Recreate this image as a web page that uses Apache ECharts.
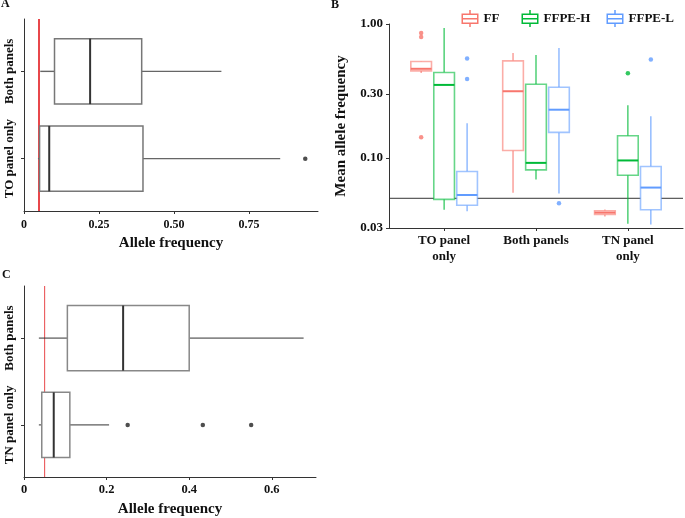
<!DOCTYPE html>
<html>
<head>
<meta charset="utf-8">
<script src="https://cdn.jsdelivr.net/npm/echarts@6/dist/echarts.min.js"></script>
<style>html,body{margin:0;padding:0;background:#fff}#main{width:685px;height:518px}</style>
</head>
<body>
<div id="main"></div>
<script>
// ---------- Panel A ----------
const aCategories = ['TO panel only', 'Both panels'];
// [low whisker, Q1, median, Q3, high whisker]
const aStats = [
  [0.0465, 0.0519, 0.0841, 0.3966, 0.854],
  [0.0542, 0.1017, 0.2204, 0.3923, 0.658]
];
const aOutliers = [[0, 0.9375]];          // [category index, value]
const aTicks = [0, 0.25, 0.5, 0.75];
const aRefLine = 0.05;

// ---------- Panel B ----------
const bCategories = ['TO panel\nonly', 'Both panels', 'TN panel\nonly'];
const bGroups = ['FF', 'FFPE-H', 'FFPE-L'];
const ffStats = [
  [0.430, 0.447, 0.463, 0.525, 0.53],
  [0.0551, 0.1138, 0.3148, 0.531, 0.6065],
  [0.0366, 0.0379, 0.0391, 0.0404, 0.0413]
];
const ffpeHStats = [
  [0.0411, 0.0491, 0.351, 0.434, 0.933],
  [0.069, 0.0815, 0.0919, 0.3553, 0.586],
  [0.0323, 0.0743, 0.0958, 0.1464, 0.2473]
];
const ffpeLStats = [
  [0.0400, 0.0443, 0.0529, 0.0792, 0.1813],
  [0.0542, 0.1552, 0.2292, 0.3374, 0.661],
  [0.0318, 0.0411, 0.0601, 0.0864, 0.2046]
];
const ffOutliers = [[0, 0.856], [0, 0.799], [0, 0.1425]];
const ffpeHOutliers = [[2, 0.4295]];
const ffpeLOutliers = [[0, 0.5526], [0, 0.389], [1, 0.0459], [2, 0.543]];
const bTicks = [0.03, 0.1, 0.3, 1];
const bRefLine = 0.05;

// ---------- Panel C ----------
const cCategories = ['TN panel only', 'Both panels'];
const cStats = [
  [0.036, 0.043, 0.072, 0.111, 0.206],
  [0.036, 0.105, 0.240, 0.400, 0.677]
];
const cOutliers = [[0, 0.251], [0, 0.433], [0, 0.550]];
const cTicks = [0, 0.2, 0.4, 0.6];
const cRefLine = 0.05;

// ---------- styling ----------
const FONT = 'Liberation Serif';
const TXT = '#111';
const AX = '#333';
const BOX_W = 0.75;         // horizontal panels, in category units
const DODGE = 0.25;         // panel B offset between groups
const BOX_W_B = 0.225;
const bColors = ['#F8766D', '#00BA38', '#619CFF'];
const bColorsRGB = [[248,118,109],[0,186,56],[97,156,255]];

function rgba(c, a) { return 'rgba(' + c[0] + ',' + c[1] + ',' + c[2] + ',' + a + ')'; }

function hBox(st) {
  return function (params, api) {
    const cat = api.value(0);
    const v = [1, 2, 3, 4, 5].map(i => api.value(i));
    const xs = v.map(val => api.coord([val, cat])[0]);
    const yc = api.coord([v[0], cat])[1];
    const top = api.coord([v[0], cat + BOX_W / 2])[1];
    const bot = api.coord([v[0], cat - BOX_W / 2])[1];
    return { type: 'group', children: [
      { type: 'line', shape: { x1: xs[0], y1: yc, x2: xs[1], y2: yc }, style: { stroke: st.whisker, lineWidth: st.whiskerW } },
      { type: 'line', shape: { x1: xs[3], y1: yc, x2: xs[4], y2: yc }, style: { stroke: st.whisker, lineWidth: st.whiskerW } },
      { type: 'rect', shape: { x: xs[1], y: top, width: xs[3] - xs[1], height: bot - top }, style: { fill: '#fff', stroke: st.box, lineWidth: 1.5 } },
      { type: 'line', shape: { x1: xs[2], y1: top, x2: xs[2], y2: bot }, style: { stroke: st.median, lineWidth: 2 } }
    ]};
  };
}

function vBox(offset, k) {
  return function (params, api) {
    const x = api.value(0) + offset;
    const v = [1, 2, 3, 4, 5].map(i => api.value(i));
    const ys = v.map(val => api.coord([x, val])[1]);
    const xc = api.coord([x, v[2]])[0];
    const xl = api.coord([x - BOX_W_B / 2, v[2]])[0];
    const xr = api.coord([x + BOX_W_B / 2, v[2]])[0];
    const c = bColorsRGB[k];
    return { type: 'group', children: [
      { type: 'line', shape: { x1: xc, y1: ys[0], x2: xc, y2: ys[1] }, style: { stroke: rgba(c, 0.8), lineWidth: 1.3 } },
      { type: 'line', shape: { x1: xc, y1: ys[3], x2: xc, y2: ys[4] }, style: { stroke: rgba(c, 0.8), lineWidth: 1.3 } },
      { type: 'rect', shape: { x: xl, y: ys[3], width: xr - xl, height: ys[1] - ys[3] }, style: { fill: '#fff', stroke: rgba(c, 0.6), lineWidth: 1.6 } },
      { type: 'line', shape: { x1: xl, y1: ys[2], x2: xr, y2: ys[2] }, style: { stroke: bColors[k], lineWidth: 2 } }
    ]};
  };
}

function vRefLine(color, width) {
  return function (params, api) {
    const x = api.coord([api.value(0), 1])[0];
    const cs = params.coordSys;
    return { type: 'line', shape: { x1: x, y1: cs.y, x2: x, y2: cs.y + cs.height }, style: { stroke: color, lineWidth: width } };
  };
}
function hRefLine(color, width) {
  return function (params, api) {
    const y = api.coord([1, api.value(0)])[1];
    const cs = params.coordSys;
    return { type: 'line', shape: { x1: cs.x, y1: y, x2: cs.x + cs.width, y2: y }, style: { stroke: color, lineWidth: width } };
  };
}

const tickLabel = { fontFamily: FONT, fontWeight: 'bold', color: TXT };
const axisLine = { show: true, lineStyle: { color: AX, width: 1 } };

// legend icon: boxplot glyph made of filled bars
const boxIcon = 'path://M0,7h34v3h-34z M0,25h34v3h-34z M0,7h3v21h-3z M31,7h3v21h-3z M0,16h34v3h-34z M15.5,0h3v7h-3z M15.5,28h3v6h-3z';

const chart = echarts.init(document.getElementById('main'), null, { renderer: 'canvas' });

const series = [];
// Panel A
series.push({ type: 'custom', xAxisIndex: 0, yAxisIndex: 0, z: 1, silent: true,
  data: [[aRefLine]], encode: { x: 0 }, renderItem: vRefLine('#E8474B', 2) });
series.push({ type: 'custom', xAxisIndex: 0, yAxisIndex: 0, z: 2, silent: true,
  data: aStats.map((s, i) => [i + 1].concat(s)), encode: { y: 0, x: [1, 2, 3, 4, 5] },
  renderItem: hBox({ whisker: '#666', whiskerW: 1.4, box: '#777', median: '#333' }) });
series.push({ type: 'scatter', xAxisIndex: 0, yAxisIndex: 0, z: 3, silent: true,
  symbolSize: 4.5, itemStyle: { color: '#222' },
  data: aOutliers.map(o => [o[1], o[0] + 1]) });

// Panel B
series.push({ type: 'custom', xAxisIndex: 1, yAxisIndex: 1, z: 1, silent: true,
  data: [[bRefLine]], encode: { y: 0 }, renderItem: hRefLine('#333', 1) });
[ffStats, ffpeHStats, ffpeLStats].forEach((stats, k) => {
  series.push({ type: 'custom', name: bGroups[k], xAxisIndex: 1, yAxisIndex: 1, z: 2, silent: true,
    itemStyle: { color: bColors[k] },
    data: stats.map((s, i) => [i + 1].concat(s)), encode: { x: 0, y: [1, 2, 3, 4, 5] },
    renderItem: vBox((k - 1) * DODGE, k) });
});
[ffOutliers, ffpeHOutliers, ffpeLOutliers].forEach((outs, k) => {
  series.push({ type: 'scatter', xAxisIndex: 1, yAxisIndex: 1, z: 3, silent: true,
    symbolSize: 4.5, itemStyle: { color: bColors[k] },
    data: outs.map(o => [o[0] + 1 + (k - 1) * DODGE, o[1]]) });
});

// Panel C
series.push({ type: 'custom', xAxisIndex: 2, yAxisIndex: 2, z: 1, silent: true,
  data: [[cRefLine]], encode: { x: 0 }, renderItem: vRefLine('#E8474B', 1) });
series.push({ type: 'custom', xAxisIndex: 2, yAxisIndex: 2, z: 2, silent: true,
  data: cStats.map((s, i) => [i + 1].concat(s)), encode: { y: 0, x: [1, 2, 3, 4, 5] },
  renderItem: hBox({ whisker: '#333', whiskerW: 1, box: '#888', median: '#333' }) });
series.push({ type: 'scatter', xAxisIndex: 2, yAxisIndex: 2, z: 3, silent: true,
  symbolSize: 4.5, itemStyle: { color: '#222' },
  data: cOutliers.map(o => [o[1], o[0] + 1]) });

const legendText = { fontFamily: FONT, fontWeight: 'bold', fontSize: 13, color: TXT };
const legendLefts = [461.5, 521.5, 606.5];

const option = {
  animation: false,
  backgroundColor: '#fff',
  title: [
    { text: 'A', left: 1, top: -2, padding: 0, textStyle: { fontFamily: FONT, fontWeight: 'bold', fontSize: 12, color: TXT } },
    { text: 'B', left: 331, top: -1, padding: 0, textStyle: { fontFamily: FONT, fontWeight: 'bold', fontSize: 12, color: TXT } },
    { text: 'C', left: 2, top: 269, padding: 0, textStyle: { fontFamily: FONT, fontWeight: 'bold', fontSize: 12, color: TXT } }
  ],
  legend: bGroups.map((g, k) => ({
    data: [{ name: g, icon: boxIcon, itemStyle: { color: bColors[k], borderWidth: 0 } }],
    left: legendLefts[k], top: 10, padding: 0, itemWidth: 17, itemHeight: 17, itemGap: 0,
    selectedMode: false, textStyle: legendText
  })),
  grid: [
    { left: 24, top: 19, width: 294, height: 192 },
    { left: 389, top: 24, width: 294, height: 204 },
    { left: 24, top: 286, width: 292, height: 191 }
  ],
  xAxis: [
    { gridIndex: 0, type: 'value', min: 0, max: 0.98,
      name: 'Allele frequency', nameLocation: 'middle', nameGap: 25,
      nameTextStyle: { fontFamily: FONT, fontWeight: 'bold', fontSize: 15, color: TXT },
      axisLine: axisLine, splitLine: { show: false },
      axisTick: { show: true, length: 3, customValues: aTicks, lineStyle: { color: AX } },
      axisLabel: Object.assign({ fontSize: 12, margin: 8, customValues: aTicks,
        formatter: v => (v === 0 ? '0' : v.toFixed(2)) }, tickLabel) },
    { gridIndex: 1, type: 'value', min: 0.4, max: 3.6,
      axisLine: axisLine, splitLine: { show: false },
      axisTick: { show: true, length: 3, customValues: [1, 2, 3], lineStyle: { color: AX } },
      axisLabel: Object.assign({ fontSize: 13, margin: 5, lineHeight: 16, customValues: [1, 2, 3],
        formatter: v => bCategories[Math.round(v) - 1] }, tickLabel) },
    { gridIndex: 2, type: 'value', min: 0, max: 0.707,
      name: 'Allele frequency', nameLocation: 'middle', nameGap: 25,
      nameTextStyle: { fontFamily: FONT, fontWeight: 'bold', fontSize: 15, color: TXT },
      axisLine: axisLine, splitLine: { show: false },
      axisTick: { show: true, length: 3, customValues: cTicks, lineStyle: { color: AX } },
      axisLabel: Object.assign({ fontSize: 12.5, margin: 6, customValues: cTicks,
        formatter: v => (v === 0 ? '0' : v.toFixed(1)) }, tickLabel) }
  ],
  yAxis: [
    { gridIndex: 0, type: 'value', min: 0.4, max: 2.6,
      axisLine: axisLine, splitLine: { show: false },
      axisTick: { show: true, length: 3, customValues: [1, 2], lineStyle: { color: AX } },
      axisLabel: Object.assign({ fontSize: 13, margin: 8, rotate: 90, customValues: [1, 2],
        formatter: v => aCategories[Math.round(v) - 1] }, tickLabel) },
    { gridIndex: 1, type: 'log', logBase: 10, min: 0.03, max: 1,
      name: 'Mean allele frequency', nameLocation: 'middle', nameGap: 40, nameRotate: 90,
      nameTextStyle: { fontFamily: FONT, fontWeight: 'bold', fontSize: 15, color: TXT },
      axisLine: axisLine, splitLine: { show: false },
      axisTick: { show: true, length: 3, customValues: bTicks, lineStyle: { color: AX } },
      axisLabel: Object.assign({ fontSize: 13, margin: 6, customValues: bTicks,
        formatter: v => Number(v).toFixed(2) }, tickLabel) },
    { gridIndex: 2, type: 'value', min: 0.4, max: 2.6,
      axisLine: axisLine, splitLine: { show: false },
      axisTick: { show: true, length: 3, customValues: [1, 2], lineStyle: { color: AX } },
      axisLabel: Object.assign({ fontSize: 13, margin: 8, rotate: 90, customValues: [1, 2],
        formatter: v => cCategories[Math.round(v) - 1] }, tickLabel) }
  ],
  series: series
};
chart.setOption(option);
</script>
</body>
</html>
